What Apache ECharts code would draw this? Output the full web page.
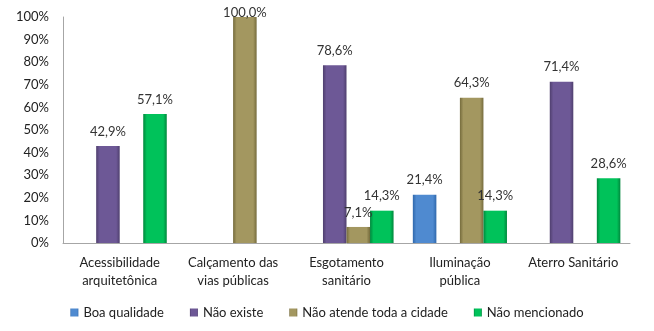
<!DOCTYPE html>
<html>
<head>
<meta charset="utf-8">
<script src="https://cdn.jsdelivr.net/npm/echarts@6/dist/echarts.min.js"></script>
<style>
html, body { margin: 0; padding: 0; background: #fff; }
#chart { width: 654px; height: 331px; }
</style>
</head>
<body>
<div id="chart"></div>
<script>
var categories = ['Acessibilidade\narquitetônica', 'Calçamento das\nvias públicas', 'Esgotamento\nsanitário', 'Iluminação\npública', 'Aterro Sanitário'];
var seriesNames = ['Boa qualidade', 'Não existe', 'Não atende toda a cidade', 'Não mencionado'];
var boaQualidade = [null, null, null, 21.4, null];
var naoExiste = [42.9, null, 78.6, null, 71.4];
var naoAtende = [null, 100.0, 7.1, 64.3, null];
var naoMencionado = [57.1, null, 14.3, 14.3, 28.6];
var yTicks = [0, 10, 20, 30, 40, 50, 60, 70, 80, 90, 100];

var font = 'Lato';
var baseColors = [
    ['#2f68ac', '#4f8ad0'],
    ['#4f3f6e', '#6d5896'],
    ['#756b3c', '#a39760'],
    ['#00873c', '#00c25a']
];

function barColor(c) {
    return new echarts.graphic.LinearGradient(0, 0, 1, 0, [
        { offset: 0, color: c[0] },
        { offset: 0.15, color: c[1] },
        { offset: 0.85, color: c[1] },
        { offset: 1, color: c[0] }
    ]);
}

function makeSeries(name, data, idx) {
    return {
        name: name,
        type: 'bar',
        // a full-height bar gets its label pulled down onto the bar top, like the original
        data: data.map(function (v) {
            if (v != null && v >= 95) {
                return { value: v, label: { position: 'insideTop', distance: -11 } };
            }
            return v;
        }),
        barGap: '0%',
        barCategoryGap: '17%',
        itemStyle: { color: barColor(baseColors[idx]) },
        label: {
            show: true,
            position: 'top',
            distance: 8,
            color: '#333',
            fontFamily: font,
            fontSize: 13,
            formatter: function (p) {
                return p.value.toFixed(1).replace('.', ',') + '%';
            }
        }
    };
}

var chart = echarts.init(document.getElementById('chart'), null, { renderer: 'canvas' });
chart.setOption({
    animation: false,
    color: ['#4f8ad0', '#6d5896', '#a39760', '#00c25a'],
    grid: { left: 63, right: 24, top: 17, bottom: 88 },
    legend: {
        bottom: 7,
        left: 'center',
        itemWidth: 8,
        itemHeight: 8,
        itemGap: 26,
        icon: 'rect',
        textStyle: { color: '#222', fontFamily: font, fontSize: 13 },
        data: seriesNames
    },
    xAxis: {
        type: 'category',
        data: categories,
        axisLine: { lineStyle: { color: '#a6a6a6' } },
        axisTick: { show: false },
        axisLabel: { color: '#222', fontFamily: font, fontSize: 13, lineHeight: 18, margin: 11, interval: 0 }
    },
    yAxis: {
        type: 'value',
        min: 0,
        max: 100,
        interval: 10,
        splitLine: { show: false },
        axisLine: { show: true, lineStyle: { color: '#a6a6a6' } },
        axisTick: { show: false },
        axisLabel: {
            color: '#222',
            fontFamily: font,
            fontSize: 13,
            margin: 14,
            formatter: function (v) { return yTicks.indexOf(v) >= 0 ? v + '%' : ''; }
        }
    },
    series: [
        makeSeries(seriesNames[0], boaQualidade, 0),
        makeSeries(seriesNames[1], naoExiste, 1),
        makeSeries(seriesNames[2], naoAtende, 2),
        makeSeries(seriesNames[3], naoMencionado, 3)
    ]
});
</script>
</body>
</html>
